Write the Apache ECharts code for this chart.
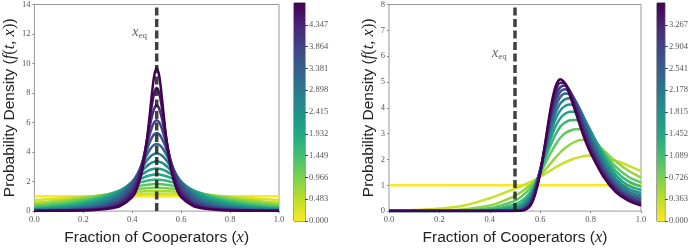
<!DOCTYPE html>
<html>
<head>
<meta charset="utf-8">
<script src="https://cdn.jsdelivr.net/npm/echarts@6/dist/echarts.min.js"></script>
<style>
  html, body { margin: 0; padding: 0; background: #fff; }
  #main { width: 691px; height: 251px; }
</style>
</head>
<body>
<div id="main"></div>
<script>
// x_eq and axis / colour-bar ranges
var X_EQ = 0.5;
var LEFT_YMAX = 14, RIGHT_YMAX = 8;
var LEFT_TMAX = 4.83, RIGHT_TMAX = 3.63;
var LEFT_TSTEP = 0.483, RIGHT_TSTEP = 0.363;

/* ---------------- left panel: f(t,x) ---------------- */
var xLeft = [0, 0.05, 0.1, 0.15, 0.2, 0.25, 0.3, 0.35, 0.4, 0.42, 0.44, 0.46, 0.47, 0.48, 0.49, 0.5,
    0.51, 0.52, 0.53, 0.54, 0.56, 0.58, 0.6, 0.65, 0.7, 0.75, 0.8, 0.85, 0.9, 0.95, 1.0];

var left0 = [1, 1, 1, 1, 1, 1, 1, 1, 1, 1, 1, 1, 1, 1, 1, 1, 1, 1, 1, 1, 1, 1, 1, 1, 1, 1, 1, 1, 1, 1, 1];
var left1 = [0.739, 0.798, 0.857, 0.916, 0.972, 1.025, 1.072, 1.110, 1.140, 1.148, 1.155, 1.160, 1.162, 1.163, 1.164, 1.164,
    1.164, 1.163, 1.162, 1.160, 1.155, 1.148, 1.140, 1.110, 1.072, 1.025, 0.972, 0.916, 0.857, 0.798, 0.739];
var left2 = [0.546, 0.625, 0.713, 0.810, 0.914, 1.019, 1.122, 1.215, 1.289, 1.312, 1.330, 1.343, 1.348, 1.351, 1.353, 1.354,
    1.353, 1.351, 1.348, 1.343, 1.330, 1.312, 1.289, 1.215, 1.122, 1.019, 0.914, 0.810, 0.713, 0.625, 0.546];
var left3 = [0.403, 0.483, 0.579, 0.695, 0.830, 0.982, 1.145, 1.306, 1.445, 1.490, 1.526, 1.553, 1.562, 1.569, 1.574, 1.575,
    1.574, 1.569, 1.562, 1.553, 1.526, 1.490, 1.445, 1.306, 1.145, 0.982, 0.830, 0.695, 0.579, 0.483, 0.403];
var left4 = [0.298, 0.369, 0.461, 0.579, 0.729, 0.914, 1.134, 1.373, 1.601, 1.679, 1.743, 1.792, 1.810, 1.823, 1.830, 1.833,
    1.830, 1.823, 1.810, 1.792, 1.743, 1.679, 1.601, 1.373, 1.134, 0.914, 0.729, 0.579, 0.461, 0.369, 0.298];
var left5 = [0.220, 0.280, 0.361, 0.471, 0.621, 0.823, 1.087, 1.408, 1.748, 1.872, 1.979, 2.062, 2.093, 2.115, 2.128, 2.133,
    2.128, 2.115, 2.093, 2.062, 1.979, 1.872, 1.748, 1.408, 1.087, 0.823, 0.621, 0.471, 0.361, 0.280, 0.220];
var left6 = [0.162, 0.211, 0.278, 0.375, 0.514, 0.717, 1.006, 1.401, 1.873, 2.061, 2.229, 2.364, 2.414, 2.452, 2.474, 2.482,
    2.474, 2.452, 2.414, 2.364, 2.229, 2.061, 1.873, 1.401, 1.006, 0.717, 0.514, 0.375, 0.278, 0.211, 0.162];
var left7 = [0.120, 0.158, 0.212, 0.293, 0.416, 0.605, 0.901, 1.350, 1.963, 2.231, 2.484, 2.696, 2.777, 2.838, 2.875, 2.888,
    2.875, 2.838, 2.777, 2.696, 2.484, 2.231, 1.963, 1.350, 0.901, 0.605, 0.416, 0.293, 0.212, 0.158, 0.120];
var left8 = [0.089, 0.118, 0.161, 0.226, 0.329, 0.498, 0.781, 1.257, 2.003, 2.366, 2.731, 3.054, 3.182, 3.279, 3.339, 3.360,
    3.339, 3.279, 3.182, 3.054, 2.731, 2.366, 2.003, 1.257, 0.781, 0.498, 0.329, 0.226, 0.161, 0.118, 0.089];
var left9 = [0.065, 0.088, 0.121, 0.173, 0.257, 0.400, 0.657, 1.132, 1.985, 2.450, 2.953, 3.428, 3.626, 3.779, 3.876, 3.909,
    3.876, 3.779, 3.626, 3.428, 2.953, 2.450, 1.985, 1.132, 0.657, 0.400, 0.257, 0.173, 0.121, 0.088, 0.065];
var left10 = [0.048, 0.065, 0.091, 0.131, 0.198, 0.316, 0.538, 0.985, 1.903, 2.466, 3.128, 3.807, 4.105, 4.342, 4.496, 4.549,
    4.496, 4.342, 4.105, 3.807, 3.128, 2.466, 1.903, 0.985, 0.538, 0.316, 0.198, 0.131, 0.091, 0.065, 0.048];
var left11 = [0.036, 0.048, 0.068, 0.099, 0.151, 0.245, 0.431, 0.833, 1.764, 2.406, 3.234, 4.167, 4.605, 4.967, 5.208, 5.293,
    5.208, 4.967, 4.605, 4.167, 3.234, 2.406, 1.764, 0.833, 0.431, 0.245, 0.151, 0.099, 0.068, 0.048, 0.036];
var left12 = [0.026, 0.036, 0.050, 0.074, 0.114, 0.188, 0.339, 0.685, 1.580, 2.270, 3.249, 4.480, 5.107, 5.651, 6.025, 6.159,
    6.025, 5.651, 5.107, 4.480, 3.249, 2.270, 1.580, 0.685, 0.339, 0.188, 0.114, 0.074, 0.050, 0.036, 0.026];
var left13 = [0.020, 0.027, 0.037, 0.055, 0.086, 0.143, 0.263, 0.551, 1.369, 2.069, 3.163, 4.714, 5.582, 6.380, 6.956, 7.167,
    6.956, 6.380, 5.582, 4.714, 3.163, 2.069, 1.369, 0.551, 0.263, 0.143, 0.086, 0.055, 0.037, 0.027, 0.020];
var left14 = [0.014, 0.020, 0.028, 0.041, 0.064, 0.108, 0.201, 0.434, 1.152, 1.824, 2.978, 4.833, 5.991, 7.134, 8.007, 8.339,
    8.007, 7.134, 5.991, 4.833, 2.978, 1.824, 1.152, 0.434, 0.201, 0.108, 0.064, 0.041, 0.028, 0.020, 0.014];
var left15 = [0.011, 0.015, 0.021, 0.031, 0.048, 0.081, 0.153, 0.338, 0.944, 1.559, 2.709, 4.812, 6.289, 7.877, 9.185, 9.703,
    9.185, 7.877, 6.289, 4.812, 2.709, 1.559, 0.944, 0.338, 0.153, 0.081, 0.048, 0.031, 0.021, 0.015, 0.011];

var leftCurves = [left0, left1, left2, left3, left4, left5, left6, left7, left8, left9, left10, left11, left12, left13, left14, left15];

/* ---------------- right panel ---------------- */
var xRight = [0, 0.1, 0.2, 0.3, 0.4, 0.45, 0.5, 0.53, 0.56, 0.58, 0.6, 0.62, 0.64, 0.66, 0.68, 0.7,
    0.72, 0.74, 0.76, 0.78, 0.8, 0.85, 0.9, 0.95, 1.0];

var right0 = [1, 1, 1, 1, 1, 1, 1, 1, 1, 1, 1, 1, 1, 1, 1, 1, 1, 1, 1, 1, 1, 1, 1, 1, 1];
var right1 = [0.02, 0.04, 0.1, 0.22, 0.5, 0.68, 0.87, 0.99, 1.12, 1.22, 1.33, 1.45, 1.57, 1.69, 1.8, 1.9, 1.98, 2.05, 2.1, 2.14, 2.15, 2.1, 1.95, 1.76, 1.55];
var right2 = [0, 0.005, 0.02, 0.07, 0.22, 0.38, 0.59, 0.78, 1.0, 1.18, 1.38, 1.6, 1.83, 2.06, 2.27, 2.45, 2.59, 2.69, 2.75, 2.75, 2.7, 2.36, 1.92, 1.56, 1.3];
var right3 = [0, 0.001, 0.01, 0.03, 0.12, 0.24, 0.4, 0.6, 0.88, 1.12, 1.46, 1.84, 2.22, 2.56, 2.84, 3.02, 3.12, 3.17, 3.17, 3.09, 2.93, 2.33, 1.72, 1.33, 1.1];
var right4 = [0, 0, 0.003, 0.012, 0.06, 0.14, 0.26, 0.42, 0.72, 1.05, 1.52, 2.02, 2.52, 2.95, 3.27, 3.44, 3.52, 3.53, 3.47, 3.3, 3.05, 2.25, 1.55, 1.15, 0.95];
var right5 = [0, 0, 0, 0.005, 0.025, 0.08, 0.16, 0.3, 0.62, 1.0, 1.56, 2.16, 2.76, 3.26, 3.6, 3.78, 3.85, 3.84, 3.72, 3.45, 3.12, 2.15, 1.4, 0.99, 0.82];
var right6 = [0, 0, 0, 0, 0.012, 0.04, 0.1, 0.22, 0.55, 0.97, 1.58, 2.28, 2.96, 3.54, 3.9, 4.08, 4.13, 4.08, 3.86, 3.5, 3.08, 2.02, 1.26, 0.87, 0.7];
var right7 = [0, 0, 0, 0, 0.006, 0.02, 0.055, 0.15, 0.48, 0.93, 1.6, 2.38, 3.14, 3.78, 4.17, 4.34, 4.37, 4.24, 3.9, 3.43, 2.95, 1.88, 1.15, 0.77, 0.6];
var right8 = [0, 0, 0, 0, 0.003, 0.01, 0.03, 0.1, 0.42, 0.9, 1.6, 2.45, 3.3, 4.0, 4.42, 4.55, 4.52, 4.27, 3.83, 3.3, 2.8, 1.76, 1.06, 0.68, 0.51];
var right9 = [0, 0, 0, 0, 0.001, 0.005, 0.015, 0.07, 0.36, 0.86, 1.58, 2.5, 3.45, 4.2, 4.62, 4.72, 4.6, 4.24, 3.72, 3.17, 2.66, 1.65, 0.98, 0.6, 0.43];
var right10 = [0, 0, 0, 0, 0, 0.002, 0.008, 0.045, 0.3, 0.8, 1.55, 2.55, 3.6, 4.4, 4.8, 4.86, 4.62, 4.15, 3.58, 3.02, 2.52, 1.55, 0.9, 0.53, 0.35];
var right11 = [0, 0, 0, 0, 0, 0.001, 0.004, 0.03, 0.25, 0.72, 1.5, 2.6, 3.75, 4.6, 4.97, 4.93, 4.55, 4.02, 3.42, 2.86, 2.38, 1.45, 0.82, 0.47, 0.28];
var right12 = [0, 0, 0, 0, 0, 0, 0.002, 0.02, 0.2, 0.65, 1.45, 2.65, 3.9, 4.8, 5.11, 4.92, 4.42, 3.85, 3.25, 2.7, 2.25, 1.35, 0.74, 0.4, 0.21];

var rightCurves = [right0, right1, right2, right3, right4, right5, right6, right7, right8, right9, right10, right11, right12];

// viridis key colours, 0 -> 1
var viridis = ['#440154', '#482475', '#414487', '#355f8d', '#2a788e', '#21918c',
    '#22a884', '#44bf70', '#7ad151', '#bddf26', '#fde725'];

function hex2rgb(h) {
    return [parseInt(h.substr(1, 2), 16), parseInt(h.substr(3, 2), 16), parseInt(h.substr(5, 2), 16)];
}
function viridisAt(f) {
    var p = Math.max(0, Math.min(1, f)) * (viridis.length - 1);
    var k = Math.min(Math.floor(p), viridis.length - 2);
    var u = p - k;
    var a = hex2rgb(viridis[k]), b = hex2rgb(viridis[k + 1]);
    var c = a.map(function (v, j) { return Math.round(v + (b[j] - v) * u); });
    return 'rgb(' + c.join(',') + ')';
}

var myChart = echarts.init(document.getElementById('main'));

var tickFont = { fontFamily: 'Liberation Serif', fontSize: 8.5, color: '#555' };
var nameRich = {
    a: { fontFamily: 'Liberation Sans', fontSize: 15.5, color: '#222' },
    m: { fontFamily: 'Liberation Serif', fontStyle: 'italic', fontSize: 16.5, color: '#222' },
    p: { fontFamily: 'Liberation Serif', fontSize: 16.5, color: '#222' }
};
var xName = '{a|Fraction of Cooperators (}{m|x}{a|)}';
var yName = '{a|Probability Density (}{m|f}{p|(}{m|t}{p|, }{m|x}{p|)}{a|)}';

function plotXAxis(gi) {
    return {
        gridIndex: gi, type: 'value', min: 0, max: 1, interval: 0.2,
        axisLine: { show: false },
        axisTick: { show: true, length: 2, lineStyle: { color: '#888' } },
        axisLabel: Object.assign({ margin: 4, formatter: function (v) { return v.toFixed(1); } }, tickFont),
        splitLine: { show: false },
        name: xName, nameLocation: 'middle', nameGap: 11,
        nameTextStyle: { rich: nameRich }
    };
}
function plotYAxis(gi, ymax, gap) {
    return {
        gridIndex: gi, type: 'value', min: 0, max: ymax, interval: ymax === 14 ? 2 : 1,
        axisLine: { show: false },
        axisTick: { show: true, length: 2, lineStyle: { color: '#888' } },
        axisLabel: Object.assign({ margin: 4 }, tickFont),
        splitLine: { show: false },
        name: yName, nameLocation: 'middle', nameGap: gap, nameRotate: 90,
        nameTextStyle: { rich: nameRich }
    };
}
function cbarYAxis(gi, tmax, step) {
    return {
        gridIndex: gi, type: 'value', position: 'right', min: 0, max: tmax, interval: step,
        axisLine: { show: false },
        axisTick: { show: true, length: 3, lineStyle: { color: '#444' } },
        axisLabel: Object.assign({
            margin: 4, showMaxLabel: false,
            formatter: function (v) { return v > tmax - step / 2 ? '' : v.toFixed(3); }
        }, tickFont),
        splitLine: { show: false }
    };
}
// gradient runs top (purple, large t) to bottom (yellow, t = 0)
function cbarGradient() {
    var stops = [];
    for (var k = 0; k < viridis.length; k++) {
        stops.push({ offset: k / (viridis.length - 1), color: viridis[k] });
    }
    return new echarts.graphic.LinearGradient(0, 0, 0, 1, stops);
}

var series = [];
leftCurves.forEach(function (c, i) {
    series.push({
        type: 'line', xAxisIndex: 0, yAxisIndex: 0, smooth: 0.3, symbol: 'none',
        data: xLeft.map(function (x, k) { return [x, c[k]]; }),
        lineStyle: { width: 2.5, color: viridisAt(1 - i / (leftCurves.length - 1)) },
        z: 2 + i
    });
});
rightCurves.forEach(function (c, i) {
    series.push({
        type: 'line', xAxisIndex: 2, yAxisIndex: 2, smooth: 0.3, symbol: 'none',
        data: xRight.map(function (x, k) { return [x, c[k]]; }),
        lineStyle: { width: 2.5, color: viridisAt(1 - i / (rightCurves.length - 1)) },
        z: 2 + i
    });
});

// dashed x_eq lines
[[0, LEFT_YMAX], [2, RIGHT_YMAX]].forEach(function (d) {
    series.push({
        type: 'line', xAxisIndex: d[0], yAxisIndex: d[0], symbol: 'none', z: 40,
        data: [[X_EQ, 0], [X_EQ, d[1]]],
        lineStyle: { width: 3.5, color: 'rgba(30,30,30,0.85)', type: [8, 3.5] }
    });
});

// x_eq labels
var eqLabel = {
    show: true, position: 'inside',
    formatter: '{x|x}{s|eq}',
    rich: {
        x: { fontFamily: 'Liberation Serif', fontStyle: 'italic', fontSize: 14, color: '#333' },
        s: { fontFamily: 'Liberation Serif', fontSize: 9, color: '#333', padding: [7, 0, 0, 0] }
    }
};
series.push({ type: 'scatter', xAxisIndex: 0, yAxisIndex: 0, symbolSize: 0, z: 41, data: [[0.43, 12.1]], label: eqLabel });
series.push({ type: 'scatter', xAxisIndex: 2, yAxisIndex: 2, symbolSize: 0, z: 41, data: [[0.438, 6.1]], label: eqLabel });

// colour bars
series.push({ type: 'bar', xAxisIndex: 1, yAxisIndex: 1, barWidth: '100%', data: [LEFT_TMAX], itemStyle: { color: cbarGradient() } });
series.push({ type: 'bar', xAxisIndex: 3, yAxisIndex: 3, barWidth: '100%', data: [RIGHT_TMAX], itemStyle: { color: cbarGradient() } });

var option = {
    animation: false,
    backgroundColor: '#fff',
    grid: [
        { left: 32, top: 3, width: 247, height: 218, show: true, borderColor: '#999', borderWidth: 1, backgroundColor: 'transparent' },
        { left: 294, top: 3, width: 11, height: 218, show: true, borderColor: '#444', borderWidth: 1, backgroundColor: 'transparent' },
        { left: 389, top: 3, width: 252, height: 218, show: true, borderColor: '#999', borderWidth: 1, backgroundColor: 'transparent' },
        { left: 657, top: 3, width: 11, height: 218, show: true, borderColor: '#444', borderWidth: 1, backgroundColor: 'transparent' }
    ],
    xAxis: [
        plotXAxis(0),
        { gridIndex: 1, type: 'category', data: ['t'], show: false },
        plotXAxis(2),
        { gridIndex: 3, type: 'category', data: ['t'], show: false }
    ],
    yAxis: [
        plotYAxis(0, LEFT_YMAX, 16),
        cbarYAxis(1, LEFT_TMAX, LEFT_TSTEP),
        plotYAxis(2, RIGHT_YMAX, 12),
        cbarYAxis(3, RIGHT_TMAX, RIGHT_TSTEP)
    ],
    series: series
};

myChart.setOption(option);
</script>
</body>
</html>
